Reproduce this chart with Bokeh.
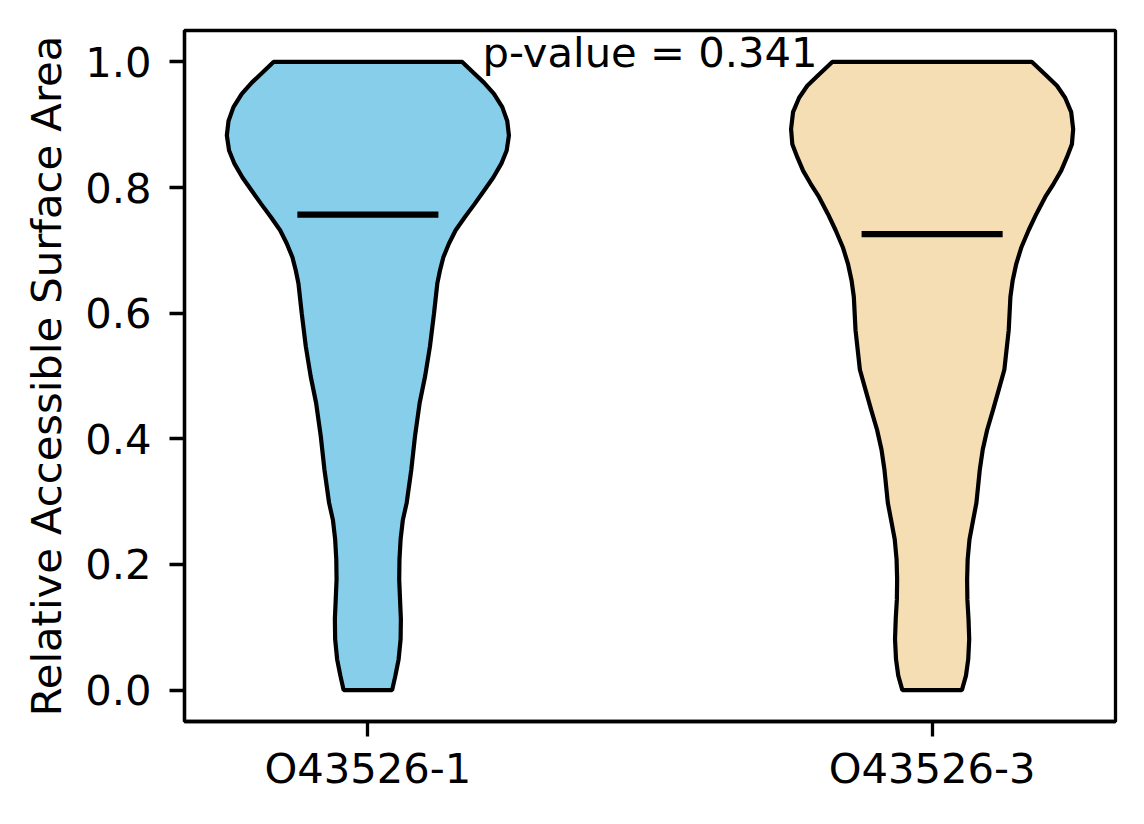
from bokeh.plotting import figure
from bokeh.models import Range1d, FixedTicker, PrintfTickFormatter
from bokeh.embed import file_html
from bokeh.resources import INLINE
from bokeh.core.properties import value

# Two isoforms compared in the violin plot
categories = ["O43526-1", "O43526-3"]
positions = [1, 2]
means = [0.757, 0.726]
p_value = 0.341
colors = ["#87CEEB", "#F5DEB3"]

# Violin outlines: RSA value and density (max = 1)
rsa_1 = [0.0, 0.023, 0.049, 0.081, 0.113, 0.144, 0.176, 0.208, 0.240, 0.271,
         0.298, 0.351, 0.404, 0.457, 0.500, 0.547, 0.600, 0.647, 0.668, 0.689,
         0.711, 0.732, 0.753, 0.774, 0.795, 0.816, 0.838, 0.859, 0.883, 0.906,
         0.928, 0.949, 0.967, 0.983, 1.0]
density_1 = [0.172, 0.195, 0.218, 0.232, 0.234, 0.228, 0.222, 0.224, 0.232, 0.248,
             0.275, 0.308, 0.334, 0.367, 0.406, 0.440, 0.469, 0.492, 0.511, 0.535,
             0.575, 0.622, 0.688, 0.757, 0.823, 0.889, 0.946, 0.984, 1.0, 0.988,
             0.953, 0.894, 0.823, 0.747, 0.669]

rsa_2 = [0.0, 0.023, 0.049, 0.081, 0.113, 0.144, 0.176, 0.208, 0.240, 0.271,
         0.298, 0.351, 0.383, 0.414, 0.446, 0.478, 0.510, 0.573, 0.626, 0.652,
         0.679, 0.705, 0.732, 0.758, 0.785, 0.806, 0.827, 0.848, 0.869, 0.893,
         0.920, 0.943, 0.962, 0.980, 1.0]
density_2 = [0.211, 0.240, 0.256, 0.263, 0.258, 0.250, 0.248, 0.252, 0.265, 0.291,
             0.314, 0.338, 0.359, 0.390, 0.432, 0.472, 0.512, 0.543, 0.555, 0.571,
             0.597, 0.633, 0.684, 0.739, 0.802, 0.861, 0.915, 0.955, 0.991, 1.0,
             0.986, 0.943, 0.885, 0.802, 0.708]

y_ticks = [0.0, 0.2, 0.4, 0.6, 0.8, 1.0]

FONT = "DejaVu Sans"
FS = "41.7px"
width = 0.5  # violin width, as in matplotlib's violinplot

p = figure(width=1128, height=808, x_range=Range1d(0.675, 2.325), y_range=Range1d(-0.05, 1.05),
           output_backend="svg", toolbar_location=None,
           min_border_left=184, min_border_right=13, min_border_top=30, min_border_bottom=87)

# Violin bodies, mirrored around each position
for pos, ys, dens, col in zip(positions, [rsa_1, rsa_2], [density_1, density_2], colors):
    right = [pos + d * width / 2 for d in dens]
    left = [pos - d * width / 2 for d in dens]
    xs = right + left[::-1]
    yy = ys + ys[::-1]
    p.patch(xs, yy, fill_color=col, line_color="black", line_width=4.2)

# Mean bars
p.segment(x0=[q - width / 4 for q in positions], x1=[q + width / 4 for q in positions],
          y0=means, y1=means, line_color="black", line_width=6.25)

p.text(x=[1.5], y=[1.015], text=["p-value = %.3f" % p_value], text_align="center",
       text_baseline="alphabetic", text_font=value(FONT), text_font_size=FS, text_color="black")

p.xgrid.visible = False
p.ygrid.visible = False
p.outline_line_color = "black"
p.outline_line_width = 3.3

p.xaxis.ticker = FixedTicker(ticks=positions)
p.xaxis.major_label_overrides = {pos: name for pos, name in zip(positions, categories)}
p.yaxis.ticker = FixedTicker(ticks=y_ticks)
p.yaxis.formatter = PrintfTickFormatter(format="%.1f")
p.yaxis.axis_label = "Relative Accessible Surface Area"

for ax in [p.xaxis[0], p.yaxis[0]]:
    ax.axis_line_width = 3.3
    ax.major_tick_line_width = 3.3
    ax.major_tick_out = 15
    ax.major_tick_in = 0
    ax.minor_tick_out = 0
    ax.minor_tick_in = 0
    ax.major_label_text_font = FONT
    ax.major_label_text_font_size = FS
    ax.major_label_text_color = "black"
    ax.axis_label_text_font = FONT
    ax.axis_label_text_font_size = FS
    ax.axis_label_text_font_style = "normal"
    ax.axis_label_text_color = "black"

p.yaxis.major_label_standoff = 18
p.yaxis.axis_label_standoff = 11
p.xaxis.major_label_standoff = 7

open("out.html", "w").write(file_html(p, INLINE))
